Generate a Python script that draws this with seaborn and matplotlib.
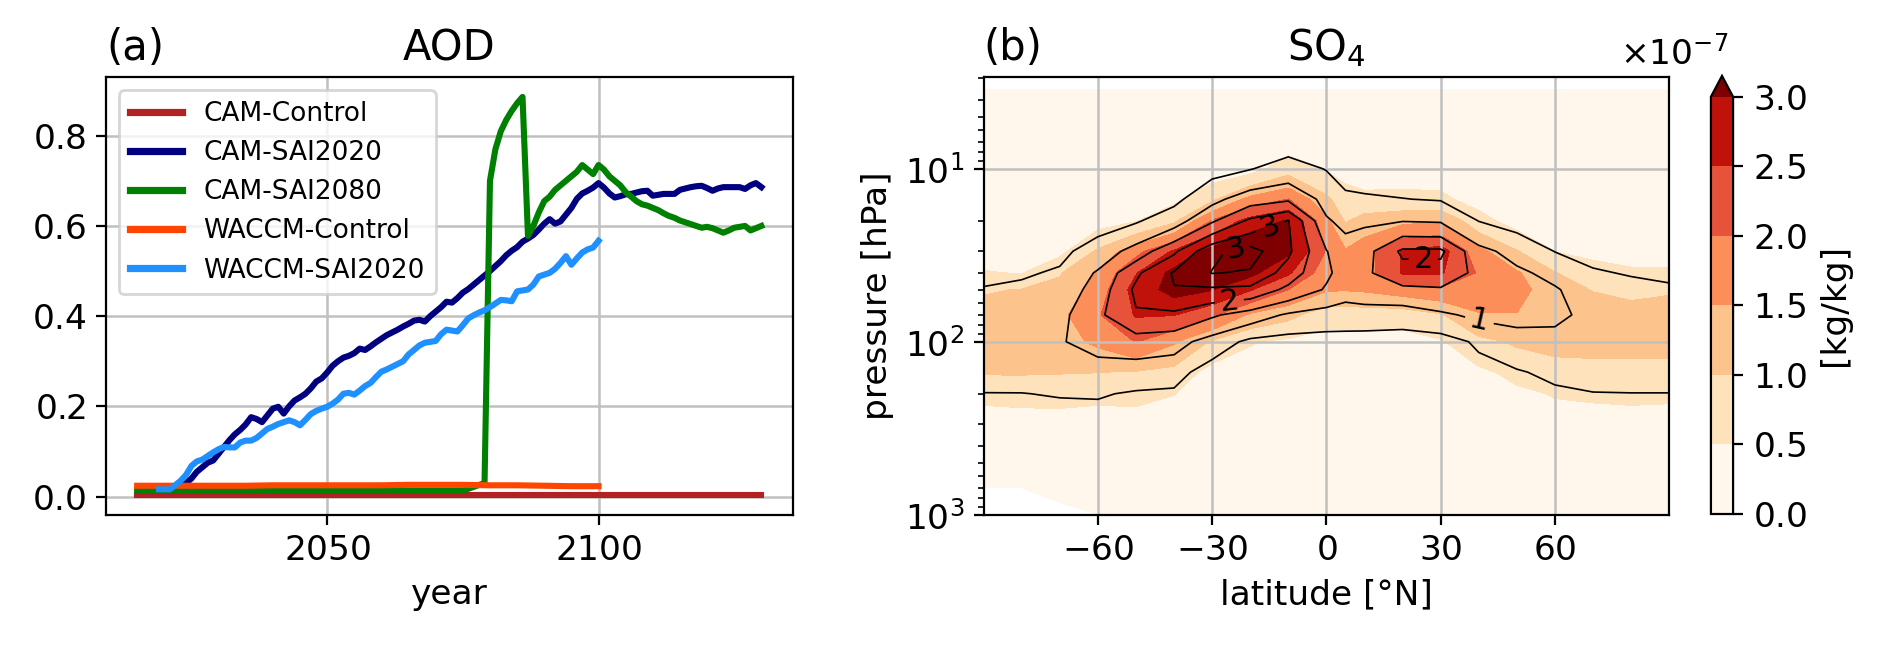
import numpy as np
import pandas as pd
import matplotlib
matplotlib.use('Agg')
import matplotlib.pyplot as plt
from matplotlib.colors import BoundaryNorm
import seaborn as sns

plt.rcParams['font.family'] = ['DejaVu Sans']
plt.rcParams['font.size'] = 12.4
plt.rcParams['axes.formatter.use_mathtext'] = True

nan = np.nan

# ---------------- (a) AOD time series ----------------
runs = ['CAM-Control', 'CAM-SAI2020', 'CAM-SAI2080', 'WACCM-Control', 'WACCM-SAI2020']
colors = ['firebrick', 'navy', 'green', 'orangered', 'dodgerblue']

cam_control_years = list(range(2015, 2131, 5))
cam_control_aod = [0.004, 0.004, 0.004, 0.004, 0.004, 0.004, 0.004, 0.004,
                   0.004, 0.004, 0.004, 0.004, 0.004, 0.004, 0.004, 0.004,
                   0.004, 0.004, 0.004, 0.004, 0.004, 0.004, 0.004, 0.004]

cam_sai2020_years = list(range(2019, 2131))
cam_sai2020_aod = [0.015, 0.015, 0.016, 0.018, 0.025, 0.03, 0.04, 0.055, 0.065, 0.075,
                   0.08, 0.095, 0.11, 0.125, 0.138, 0.148, 0.16, 0.176, 0.172, 0.165,
                   0.18, 0.195, 0.199, 0.184, 0.2, 0.213, 0.22, 0.228, 0.24, 0.255,
                   0.262, 0.275, 0.29, 0.3, 0.308, 0.312, 0.318, 0.328, 0.325, 0.333,
                   0.342, 0.35, 0.358, 0.364, 0.37, 0.377, 0.383, 0.39, 0.392, 0.388,
                   0.4, 0.41, 0.42, 0.432, 0.43, 0.44, 0.452, 0.46, 0.47, 0.48,
                   0.49, 0.5, 0.511, 0.522, 0.535, 0.545, 0.553, 0.565, 0.572, 0.58,
                   0.592, 0.605, 0.615, 0.605, 0.61, 0.625, 0.64, 0.66, 0.672, 0.678,
                   0.685, 0.695, 0.685, 0.672, 0.663, 0.666, 0.67, 0.671, 0.674, 0.677,
                   0.678, 0.667, 0.669, 0.671, 0.671, 0.671, 0.68, 0.683, 0.686, 0.688,
                   0.689, 0.684, 0.678, 0.683, 0.686, 0.686, 0.686, 0.686, 0.682, 0.69,
                   0.695, 0.686]

cam_sai2080_years = list(range(2015, 2080, 5)) + [2079] + list(range(2080, 2131))
cam_sai2080_aod = [0.013, 0.013, 0.013, 0.013, 0.013, 0.013, 0.013, 0.013, 0.013,
                   0.013, 0.013, 0.013, 0.013, 0.03,
                   0.70, 0.77, 0.81, 0.835, 0.855, 0.872, 0.886, 0.578, 0.6, 0.63,
                   0.655, 0.665, 0.68, 0.69, 0.70, 0.71, 0.72, 0.735, 0.725, 0.715,
                   0.735, 0.725, 0.71, 0.70, 0.69, 0.675, 0.665, 0.655, 0.648, 0.645,
                   0.64, 0.635, 0.628, 0.622, 0.618, 0.612, 0.608, 0.604, 0.60, 0.596,
                   0.598, 0.595, 0.59, 0.585, 0.59, 0.596, 0.598, 0.60, 0.59, 0.595,
                   0.60]

waccm_control_years = list(range(2015, 2101, 5))
waccm_control_aod = [0.024, 0.024, 0.024, 0.024, 0.024, 0.025, 0.025, 0.025, 0.025,
                     0.025, 0.026, 0.026, 0.026, 0.025, 0.025, 0.024, 0.023, 0.023]

waccm_sai2020_years = list(range(2019, 2101))
waccm_sai2020_aod = [0.016, 0.016, 0.016, 0.025, 0.035, 0.048, 0.068, 0.078, 0.082, 0.09,
                     0.098, 0.105, 0.11, 0.109, 0.109, 0.12, 0.124, 0.124, 0.13, 0.14,
                     0.15, 0.155, 0.161, 0.165, 0.169, 0.165, 0.158, 0.17, 0.183, 0.19,
                     0.195, 0.199, 0.206, 0.215, 0.228, 0.23, 0.226, 0.235, 0.245, 0.252,
                     0.265, 0.277, 0.282, 0.288, 0.294, 0.3, 0.315, 0.325, 0.335, 0.341,
                     0.343, 0.345, 0.36, 0.37, 0.368, 0.366, 0.38, 0.395, 0.402, 0.408,
                     0.413, 0.42, 0.428, 0.436, 0.435, 0.433, 0.455, 0.457, 0.459, 0.47,
                     0.488, 0.492, 0.496, 0.505, 0.518, 0.533, 0.514, 0.528, 0.541, 0.548,
                     0.552, 0.567]

# ---------------- (b) SO4 zonal mean ----------------
lats = [-90, -80, -70, -60, -50, -40, -30, -20, -10, 0, 5, 10, 20, 30, 40, 50, 60, 70, 80, 90]
plev = [3.5, 5, 7, 10, 15, 20, 30, 40, 50, 70, 100, 150, 200, 300, 500, 700, 850, 1000]

# shaded field, units 1e-7 kg/kg, one profile (top -> surface) per latitude
so4_shaded = [
    [0.1, 0.12, 0.15, 0.2, 0.26, 0.31, 0.38, 0.52, 0.96, 1.16, 1.35, 1.05, 0.6, 0.3, 0.15, 0.1, nan, nan],
    [0.1, 0.12, 0.15, 0.2, 0.26, 0.31, 0.38, 0.48, 1.02, 1.2, 1.4, 1.05, 0.64, 0.3, 0.15, 0.1, nan, nan],
    [0.1, 0.13, 0.16, 0.2, 0.27, 0.32, 0.36, 0.96, 1.14, 1.37, 1.3, 1.03, 0.65, 0.3, 0.15, 0.1, 0.08, nan],
    [0.1, 0.13, 0.17, 0.22, 0.27, 0.3, 1.08, 1.57, 1.72, 1.95, 1.6, 1.01, 0.6, 0.3, 0.14, 0.1, 0.08, 0.06],
    [0.1, 0.13, 0.17, 0.24, 0.35, 0.47, 1.84, 2.47, 2.71, 2.54, 2.02, 0.96, 0.62, 0.3, 0.14, 0.1, 0.08, 0.06],
    [0.1, 0.13, 0.17, 0.25, 0.38, 0.9, 2.57, 3.16, 3.19, 2.52, 1.55, 0.84, 0.51, 0.27, 0.13, 0.1, 0.08, 0.06],
    [0.1, 0.12, 0.15, 0.2, 0.9, 2.03, 3.19, 3.46, 3.02, 2.09, 0.93, 0.3, 0.25, 0.18, 0.12, 0.1, 0.08, 0.06],
    [0.1, 0.15, 0.22, 0.3, 1.66, 2.69, 3.6, 3.13, 2.54, 1.42, 0.53, 0.3, 0.22, 0.16, 0.12, 0.1, 0.08, 0.06],
    [0.1, 0.15, 0.25, 0.78, 2.01, 3.05, 3.09, 2.57, 2.0, 1.14, 0.4, 0.27, 0.2, 0.15, 0.11, 0.09, 0.08, 0.06],
    [0.1, 0.15, 0.25, 0.45, 1.11, 1.62, 1.97, 1.72, 1.55, 0.7, 0.3, 0.25, 0.2, 0.15, 0.11, 0.09, 0.08, 0.06],
    [0.1, 0.13, 0.2, 0.35, 0.68, 0.95, 1.55, 1.7, 1.53, 0.7, 0.3, 0.22, 0.18, 0.14, 0.11, 0.09, 0.08, 0.06],
    [0.1, 0.13, 0.2, 0.32, 0.59, 1.23, 1.78, 1.77, 1.57, 0.7, 0.3, 0.22, 0.18, 0.14, 0.11, 0.09, 0.08, 0.06],
    [0.1, 0.13, 0.2, 0.32, 0.61, 1.38, 2.55, 2.55, 1.74, 0.71, 0.3, 0.22, 0.18, 0.14, 0.11, 0.09, 0.08, 0.06],
    [0.1, 0.13, 0.2, 0.32, 0.58, 1.44, 2.75, 2.55, 1.89, 0.95, 0.45, 0.3, 0.22, 0.16, 0.12, 0.1, 0.08, 0.06],
    [0.1, 0.12, 0.16, 0.22, 0.35, 0.66, 1.66, 1.95, 1.73, 1.47, 0.86, 0.4, 0.3, 0.2, 0.12, 0.1, 0.08, 0.06],
    [0.1, 0.12, 0.15, 0.2, 0.25, 0.3, 1.03, 1.56, 1.7, 1.48, 1.07, 0.63, 0.4, 0.25, 0.13, 0.1, 0.08, 0.06],
    [0.1, 0.12, 0.15, 0.2, 0.26, 0.32, 0.49, 1.02, 1.18, 1.45, 1.16, 0.8, 0.53, 0.3, 0.14, 0.1, 0.08, 0.06],
    [0.1, 0.12, 0.15, 0.19, 0.25, 0.3, 0.4, 0.66, 0.98, 1.25, 1.17, 0.83, 0.57, 0.3, 0.14, 0.1, 0.08, 0.06],
    [0.1, 0.12, 0.15, 0.19, 0.25, 0.3, 0.38, 0.55, 0.87, 1.2, 1.15, 0.85, 0.6, 0.3, 0.14, 0.1, 0.08, 0.06],
    [0.1, 0.12, 0.15, 0.19, 0.25, 0.3, 0.38, 0.55, 0.95, 1.2, 1.16, 0.84, 0.58, 0.3, 0.14, 0.1, 0.08, 0.06],
]

# field drawn as black contour lines, same layout
so4_lines = [
    [0.58, 0.6, 0.62, 0.65, 0.7, 0.75, 0.82, 0.92, 1.02, 1.2, 1.3, 1.16, 0.99, 0.75, 0.62, 0.58, 0.57, 0.56],
    [0.58, 0.6, 0.62, 0.65, 0.7, 0.76, 0.84, 0.95, 1.08, 1.26, 1.35, 1.2, 0.99, 0.75, 0.62, 0.58, 0.57, 0.56],
    [0.58, 0.6, 0.63, 0.67, 0.73, 0.8, 0.9, 1.05, 1.18, 1.36, 1.47, 1.28, 1.03, 0.76, 0.62, 0.58, 0.57, 0.56],
    [0.58, 0.6, 0.64, 0.7, 0.78, 0.83, 1.19, 1.56, 1.71, 1.9, 1.65, 1.32, 1.04, 0.78, 0.63, 0.59, 0.57, 0.56],
    [0.58, 0.6, 0.64, 0.7, 0.8, 0.95, 1.7, 2.41, 2.6, 2.45, 1.77, 1.26, 0.95, 0.75, 0.62, 0.59, 0.57, 0.56],
    [0.58, 0.6, 0.64, 0.72, 0.88, 1.27, 2.41, 3.05, 2.98, 2.4, 1.69, 1.19, 0.92, 0.74, 0.62, 0.59, 0.57, 0.56],
    [0.58, 0.62, 0.7, 0.85, 1.36, 1.93, 3.4, 3.52, 2.91, 2.07, 1.29, 0.75, 0.7, 0.65, 0.61, 0.59, 0.57, 0.56],
    [0.6, 0.65, 0.75, 0.98, 1.77, 2.6, 3.7, 3.45, 2.86, 1.77, 0.88, 0.75, 0.7, 0.65, 0.61, 0.59, 0.57, 0.56],
    [0.6, 0.65, 0.8, 1.19, 1.92, 3.02, 3.1, 2.77, 2.38, 1.43, 0.8, 0.75, 0.7, 0.65, 0.61, 0.59, 0.57, 0.56],
    [0.6, 0.65, 0.75, 0.98, 1.35, 1.55, 2.02, 2.08, 1.95, 1.28, 0.8, 0.72, 0.68, 0.64, 0.61, 0.59, 0.57, 0.56],
    [0.58, 0.62, 0.68, 0.8, 1.1, 1.38, 1.7, 1.82, 1.7, 1.26, 0.8, 0.72, 0.68, 0.64, 0.61, 0.59, 0.57, 0.56],
    [0.58, 0.62, 0.67, 0.78, 1.06, 1.43, 1.8, 1.92, 1.8, 1.25, 0.8, 0.72, 0.68, 0.64, 0.61, 0.59, 0.57, 0.56],
    [0.58, 0.62, 0.67, 0.78, 1.01, 1.48, 2.6, 2.3, 1.9, 1.22, 0.78, 0.72, 0.68, 0.64, 0.61, 0.59, 0.57, 0.56],
    [0.58, 0.62, 0.67, 0.77, 0.97, 1.45, 2.6, 2.3, 1.95, 1.42, 0.78, 0.74, 0.68, 0.64, 0.61, 0.59, 0.57, 0.56],
    [0.58, 0.6, 0.63, 0.68, 0.78, 0.99, 1.65, 1.88, 1.88, 1.6, 1.08, 0.82, 0.72, 0.65, 0.61, 0.59, 0.57, 0.56],
    [0.58, 0.6, 0.63, 0.67, 0.74, 0.83, 1.32, 1.6, 1.72, 1.65, 1.3, 0.96, 0.8, 0.68, 0.62, 0.59, 0.57, 0.56],
    [0.58, 0.6, 0.62, 0.65, 0.7, 0.78, 0.99, 1.35, 1.55, 1.58, 1.38, 1.1, 0.92, 0.74, 0.63, 0.59, 0.57, 0.56],
    [0.58, 0.6, 0.62, 0.64, 0.68, 0.74, 0.88, 1.04, 1.22, 1.4, 1.42, 1.2, 0.98, 0.75, 0.63, 0.59, 0.57, 0.56],
    [0.58, 0.6, 0.62, 0.64, 0.68, 0.73, 0.84, 0.97, 1.12, 1.34, 1.4, 1.2, 0.99, 0.75, 0.63, 0.59, 0.57, 0.56],
    [0.58, 0.6, 0.62, 0.64, 0.68, 0.72, 0.81, 0.92, 1.06, 1.3, 1.38, 1.2, 0.99, 0.75, 0.63, 0.59, 0.57, 0.56],
]
line_levels = [1, 1.5, 2, 2.5, 3, 3.5]
label_spots = [(40.3, 72.5), (-25.6, 56), (25.4, 33), (-15, 21.2), (-23.4, 33)]

# ---------------- figure ----------------
fig = plt.figure(figsize=(9.46, 3.245), dpi=200)
ax1 = fig.add_axes([0.056, 0.207, 0.3629, 0.6743])
ax2 = fig.add_axes([0.5199, 0.207, 0.3623, 0.6743])
cax = fig.add_axes([0.9043, 0.208, 0.0117, 0.675])

frames = []
for name, yrs, vals in [(runs[0], cam_control_years, cam_control_aod),
                        (runs[1], cam_sai2020_years, cam_sai2020_aod),
                        (runs[2], cam_sai2080_years, cam_sai2080_aod),
                        (runs[3], waccm_control_years, waccm_control_aod),
                        (runs[4], waccm_sai2020_years, waccm_sai2020_aod)]:
    frames.append(pd.DataFrame({'year': yrs, 'AOD': vals, 'run': name}))
aod = pd.concat(frames, ignore_index=True)

sns.lineplot(data=aod, x='year', y='AOD', hue='run', hue_order=runs,
             palette=dict(zip(runs, colors)), linewidth=2.2, errorbar=None, ax=ax1)

old = ax1.get_legend()
handles = old.legend_handles
labels = [t.get_text() for t in old.get_texts()]
leg = ax1.legend(handles, labels, loc='upper left', fontsize=9.5)
for h in leg.legend_handles:
    h.set_linewidth(2.6)

ax1.grid(True, color='#c0c0c0', linewidth=0.9)
ax1.set_xticks([2050, 2100])
ax1.set_xlabel('year')
ax1.set_ylabel('')
ax1.set_title('AOD', fontsize=15)
ax1.set_title('(a)', loc='left', fontsize=15)

# right panel
shade = np.ma.masked_invalid(np.array(so4_shaded, dtype=float).T) * 1e-7
lines = np.array(so4_lines).T
fill_levels = np.arange(0, 3.01, 0.5) * 1e-7
cmap = plt.get_cmap('OrRd')
norm = BoundaryNorm(fill_levels, ncolors=cmap.N, extend='max')

ax2.set_yscale('log')
cf = ax2.contourf(lats, plev, shade, levels=fill_levels, cmap=cmap, norm=norm,
                  extend='max', zorder=0.5)
cs = ax2.contour(lats, plev, lines, levels=line_levels, colors='k',
                 linewidths=0.6, zorder=3)
ax2.set_xlim(-90, 90)
ax2.set_ylim(1000, 2.95)
ax2.set_xticks([-60, -30, 0, 30, 60])
ax2.grid(True, color='#c0c0c0', linewidth=0.9)
ax2.set_xlabel('latitude [°N]')
ax2.set_ylabel('pressure [hPa]')
ax2.set_title('SO$_4$', fontsize=15)
ax2.set_title('(b)', loc='left', fontsize=15)
ax2.clabel(cs, fmt='%d', fontsize=11, manual=label_spots)

cb = fig.colorbar(cf, cax=cax)
cb.set_label('[kg/kg]')
# scale factor written above the colorbar, right-aligned with it
cb.ax.yaxis.get_offset_text().set_visible(False)
fig.text(0.9135, 0.90, r'$\times\mathdefault{10^{-7}}$', ha='right', va='baseline',
         fontsize=12.4)

fig.savefig('out.png', dpi=200)
